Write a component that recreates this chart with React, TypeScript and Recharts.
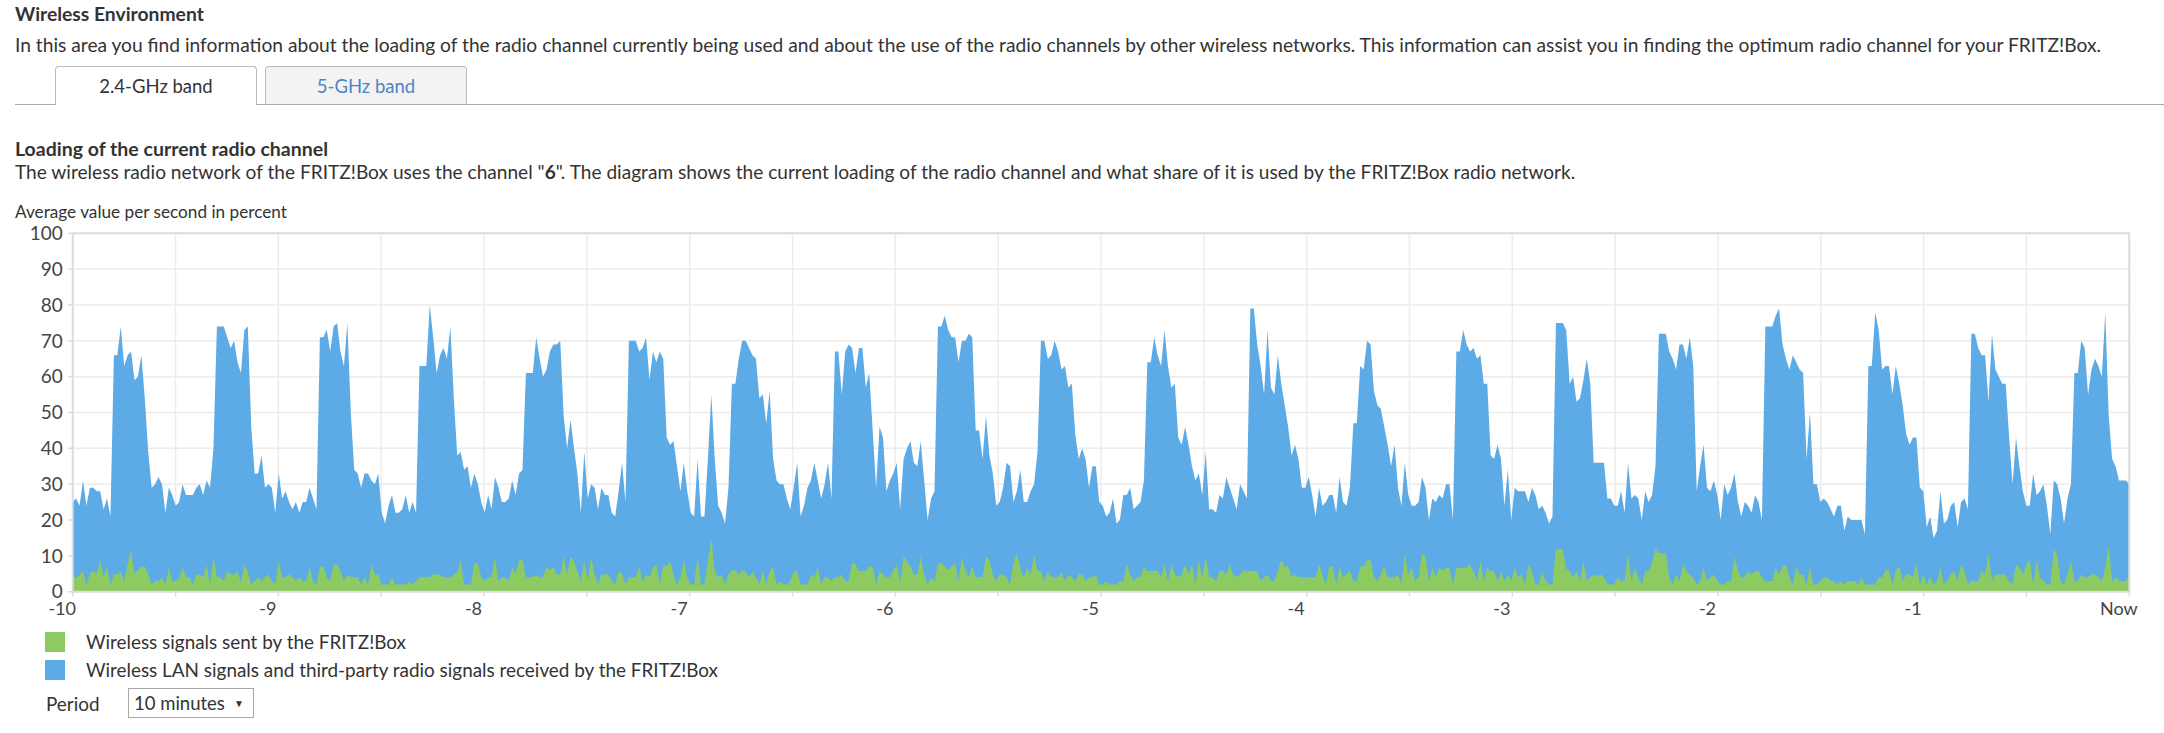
import React from 'react';
import { AreaChart, Area, XAxis, YAxis, CartesianGrid, ReferenceLine } from 'recharts';

// Blue outline: total channel load (%) per second, oldest first (600 s = 10 minutes)
const loadTotal = [
  25,26,24,31,24,29,29,28,28,23, 26,21,66,66,74,63,66,67,59,60, 66,54,39,29,30,32,30,22,29,27,
  24,25,30,27,27,27,29,30,27,31, 29,40,74,74,74,71,68,70,64,61, 73,74,46,33,33,38,29,30,29,22,
  33,26,28,25,23,25,22,25,25,29, 26,23,71,71,73,67,74,75,67,63, 75,50,34,33,29,33,33,31,30,33,
  22,19,24,27,22,22,23,27,22,25, 22,63,
  63,63,80,71,61,66,68,65,74,54, 38,39,34,35,29,33,30,25,22,27, 23,32,29,25,25,26,31,27,33,34,
  61,61,61,71,65,60,62,67,69,69, 70,49,40,48,40,33,22,39,26,30, 29,23,29,27,27,22,21,28,36,25,
  70,70,70,67,68,71,59,67,64,67, 65,43,41,42,35,28,36,28,22,21, 37,21,21,37,55,37,24,22,19,29,
  58,58,65,70,70,68,66,65,54,
  55,47,56,37,31,30,30,26,23,29, 36,21,24,29,31,36,31,26,30,36, 26,67,67,55,67,69,68,61,68,68,
  57,61,45,29,46,43,28,31,33,36, 23,37,40,42,36,35,42,31,20,26, 28,74,74,77,73,71,71,64,70,70,
  72,71,45,45,37,49,38,33,24,25, 29,36,35,25,28,34,25,25,28,30, 39,70,70,65,66,70,67,62,63,57,
  58,44,37,40,37,29,35,35,25,
  24,21,22,26,19,20,27,27,29,23, 24,25,31,64,64,71,66,63,73,63, 57,58,43,41,46,41,35,31,33,27,
  39,23,23,22,27,26,32,29,26,23, 30,28,26,79,79,69,63,55,73,57, 55,66,58,52,46,38,41,37,29,29,
  32,27,21,29,24,25,27,27,22,32, 25,24,29,47,47,63,62,70,69,56, 52,51,46,41,35,41,29,24,36,27,
  24,24,25,32,29,20,26,25,27,
  26,30,30,20,67,67,73,69,67,68, 65,66,58,58,38,37,41,37,24,34, 20,29,28,28,28,25,29,27,23,24,
  22,19,21,75,75,75,73,58,60,53, 54,59,65,58,36,36,36,36,26,26, 24,24,28,22,36,26,27,26,20,28,
  25,27,35,72,72,72,67,65,62,69, 69,65,71,63,28,35,41,29,28,31, 27,20,30,27,29,33,25,21,25,24,
  22,27,25,20,74,74,74,77,
  79,69,65,62,66,64,62,61,37,50, 30,30,25,26,25,23,21,24,24,17, 21,20,20,20,20,16,63,63,78,73,
  62,63,63,55,63,58,52,44,41,43, 43,29,28,18,21,15,17,28,19,20, 24,25,18,25,26,23,72,72,68,66,
  66,53,72,62,60,58,58,43,30,43, 35,28,24,24,33,27,28,30,24,16, 31,30,26,19,26,30,61,61,70,68,
  55,62,65,63,60,78,49,37,35,31, 31,31,30,
];

// Green: share sent by the FRITZ!Box (%) per second
const sentByBox = [
  4.5,3.7,4.7,5.8,2,5,5.8,5,8.8,4, 7,2,4.8,4.8,5.8,3,7.5,11.6,5,6, 7,7,4.8,2,3,3,4,2,6.7,3,
  3,3.7,6.7,4,4,2,4.8,4.8,4,7.5, 2,9.8,4,4,3,5.8,4.8,4.8,5.6,2.8, 7.6,5.6,2,3,4,3,4,4.8,3,2,
  8.6,4,4,4.8,4,3,4,3,3,6.7, 3,2,7,7,4,3,7.6,7.6,5.8,3, 4.8,4,4,4,2,4,2,7.6,4.8,4.8,
  2,2,2,4,2,2,2,2,3,2, 3,4,
  4,4,4,4.8,4.8,4.8,4,4,4,4.8, 5.5,8.8,2,2,2,8,8,4,3,4, 4,9.8,3,4,4,3,6.7,5,8.8,8.8,
  4,4,4,4.8,4,4,7,6,7,4.8, 4.8,9.8,4.8,9.8,8.4,5.6,3,8.8,3,9.8, 4.8,2,4.8,4.8,4.8,3,2,5.8,5,2,
  4,4,4,7,3,4.8,4,6.7,7.6,2, 7.6,7,8.4,4.8,2,4,8.8,4,2,2, 9.8,2,2,8.4,14.9,5.6,4,4.8,2,4.8,
  6,6,4.8,6,5.6,4,5.6,4,2,
  5.8,2,5.6,7,2,3,2,2,3,5.8, 5.8,2,2,2,4.6,4,6.7,2,4,4, 3,4,4,4.8,3,3,8,7.6,5.8,5.8,
  5.8,7,7,2,5.8,4.8,4,4,6,7.6, 2.8,9.8,8.4,7,4.8,4.8,9.8,4.8,2,4, 3,8,8,7,6,7,8,3,9.8,6,
  4,7,4,4,4,9.8,8.8,4.8,3,4.8, 4.8,4,2,8,10.7,6.5,4,6.7,4.8,10.4, 5.8,5.8,3,5.8,4,4,4,5.6,3,4.8,
  4,3,4.8,4.8,3,4,4,4.8,2,
  2,3,2,2,2,3,3,7.6,4.8,3, 4,4,7,5.8,5.8,5.8,5.8,4,7.6,3, 7.6,4.8,4,4.8,7.6,5,7.6,2,8.8,4,
  9.8,4,4,3,5.8,5.8,4.8,7.6,4.8,4, 4.8,5.8,5.8,5.8,5.8,5.8,3,4,4.8,3, 3,5.8,8.8,7,7,4,4.8,4,4,4,
  4,4,4,7.6,4.8,2,7,7,2,7, 4,4.8,6,3,3,7,7,8.8,8.8,4, 3,4.8,7,4,4,4,4.8,2,10.7,4.8,
  6.7,3,4,10.7,9.8,3,6.7,4,6.7,
  6,6.7,6.7,2,6.7,6.7,6.7,6.7,7.6,5.8, 3,8.6,3,6.7,5.8,5.8,3,5.8,3,4.8, 3,6.7,4,5,2,7.6,5.8,2,2,5.8,
  3,2,2,11.9,11.9,11.9,6.5,5.8,4,5.6, 3,8.6,3,4,4.8,4,4.8,4,2,2, 2,4,3,3,10.7,3,6.7,4,2,5.8,
  5.8,8,11.9,10.7,10.7,10.7,4,2,4.8,3, 7.6,5.8,4.8,4,2,3,6.7,3,4,4.8, 3,2,2,3,3,9.8,5.8,4,4,5.8,
  4.8,5.8,5.8,4,3,3,3,6.7,
  4.8,7,7.6,4,2,7,4.8,4.8,2,7, 2,2,3,4,4,3,3,2,3,2, 3,3,3,2,4,2,2,2,2,4,
  4,6,6,2,6,7,3,4.8,4.8,4, 7.6,2,4.7,2,4,2,3,6.7,2,3, 4.8,5.8,3,7.6,5.8,2,3,3,3,5.8,
  4.8,10.7,3,4.8,4.8,4.8,4.8,3,2,7.6, 6.7,4.8,7.6,8.8,2,8.8,4,3,2,2, 11.9,10,3,2,4.8,8.6,3,3,4.8,4,
  4,4.8,4.8,4,3,6.7,12.8,3,4,3, 3,3,4.7,
];

const xTicks = [-10,-9.5,-9,-8.5,-8,-7.5,-7,-6.5,-6,-5.5,-5,-4.5,-4,-3.5,-3,-2.5,-2,-1.5,-1,-0.5,0];
const minuteLabels = ['-10','-9','-8','-7','-6','-5','-4','-3','-2','-1','Now'];
const yTicks = [0,10,20,30,40,50,60,70,80,90,100];

const legendItems = [
  { color: '#8dcb62', text: 'Wireless signals sent by the FRITZ!Box' },
  { color: '#5caae6', text: 'Wireless LAN signals and third-party radio signals received by the FRITZ!Box' },
];

const BLUE = '#5caae6';
const GREEN = '#8dcb62';
const FONT = "Lato, 'Noto Sans', sans-serif";
const TEXT = '#333';

const rows = loadTotal.map((v, i) => ({
  t: -10 + (i * 10) / (loadTotal.length - 1),
  total: v,
  sent: sentByBox[i],
}));

const XTick = (props: any) => {
  const { x, y, payload } = props;
  const v = payload.value;
  if (Math.abs(v - Math.round(v)) > 1e-6) return <g />;
  const idx = Math.round(v) + 10;
  return (
    <text x={x - 10.5} y={y} dy="0.71em" textAnchor="middle" fontSize={18} fill="#444" fontFamily={FONT}>
      {minuteLabels[idx]}
    </text>
  );
};

export default function App() {
  const abs = (l: number, t: number, extra: React.CSSProperties = {}): React.CSSProperties => ({
    position: 'absolute', left: l, top: t, whiteSpace: 'nowrap', ...extra,
  });
  return (
    <div style={{ position: 'absolute', left: 0, top: 0, width: 2164, height: 733, background: '#fff', fontFamily: FONT, color: TEXT, overflow: 'hidden' }}>
      <div style={abs(15, 2, { fontSize: 19.3, fontWeight: 700, lineHeight: '24px' })}>Wireless Environment</div>
      <div style={abs(15, 33, { fontSize: 19.2, lineHeight: '24px' })}>
        In this area you find information about the loading of the radio channel currently being used and about the use of the radio channels by other wireless networks. This information can assist you in finding the optimum radio channel for your FRITZ!Box.
      </div>

      <div style={abs(15, 104, { width: 2149, height: 1, background: '#aaa' })} />
      <div style={abs(55, 66, { width: 202, height: 39, boxSizing: 'border-box', border: '1px solid #bbb', borderBottom: 'none', borderRadius: '4px 4px 0 0', background: '#fff', display: 'flex', alignItems: 'center', justifyContent: 'center', fontSize: 18.5 })}>2.4-GHz band</div>
      <div style={abs(265, 66, { width: 202, height: 38, boxSizing: 'border-box', border: '1px solid #bbb', borderBottom: 'none', borderRadius: '4px 4px 0 0', background: '#f3f3f3', display: 'flex', alignItems: 'center', justifyContent: 'center', fontSize: 18.5, color: '#4f84c4' })}>5-GHz band</div>

      <div style={abs(15, 137, { fontSize: 19.5, fontWeight: 700, lineHeight: '24px' })}>Loading of the current radio channel</div>
      <div style={abs(15, 160, { fontSize: 19.1, lineHeight: '24px' })}>
        The wireless radio network of the FRITZ!Box uses the channel "<b>6</b>". The diagram shows the current loading of the radio channel and what share of it is used by the FRITZ!Box radio network.
      </div>
      <div style={abs(15, 201, { fontSize: 17.2, lineHeight: '22px' })}>Average value per second in percent</div>

      <div style={abs(0, 190)}>
        <AreaChart width={2164} height={440} data={rows} margin={{ top: 43.3, right: 34.7, bottom: 8.3, left: 12.7 }}>
          <CartesianGrid stroke="#ececec" strokeWidth={1.5} />
          <XAxis
            type="number"
            dataKey="t"
            domain={[-10, 0]}
            ticks={xTicks}
            interval={0}
            height={30}
            tickSize={5}
            tickMargin={6}
            axisLine={{ stroke: '#dcdcdc', strokeWidth: 2 }}
            tickLine={{ stroke: '#dcdcdc', strokeWidth: 1.5 }}
            tick={<XTick />}
          />
          <YAxis
            type="number"
            domain={[0, 100]}
            ticks={yTicks}
            interval={0}
            width={60}
            tickSize={5}
            tickMargin={5}
            axisLine={{ stroke: '#dcdcdc', strokeWidth: 2 }}
            tickLine={{ stroke: '#dcdcdc', strokeWidth: 1.5 }}
            tick={{ fontSize: 19, fill: '#444', fontFamily: FONT }}
          />
          <Area type="linear" dataKey="total" stroke="none" fill={BLUE} fillOpacity={1} isAnimationActive={false} dot={false} activeDot={false} />
          <Area type="linear" dataKey="sent" stroke="none" fill={GREEN} fillOpacity={1} isAnimationActive={false} dot={false} activeDot={false} />
          <ReferenceLine y={100} stroke="#dcdcdc" strokeWidth={2} />
          <ReferenceLine x={0} stroke="#dcdcdc" strokeWidth={2} />
        </AreaChart>
      </div>

      {legendItems.map((it, i) => (
        <div key={i}>
          <div style={abs(45, 632 + i * 28, { width: 20, height: 20, background: it.color })} />
          <div style={abs(86, 630 + i * 28, { fontSize: 18.9, lineHeight: '24px' })}>{it.text}</div>
        </div>
      ))}
      <div style={abs(46, 692, { fontSize: 18.9, lineHeight: '24px' })}>Period</div>
      <div style={abs(128, 688, { width: 126, height: 30, boxSizing: 'border-box', border: '1px solid #a8a8a8', background: '#fff' })}>
        <div style={abs(5, 2, { fontSize: 18.5, lineHeight: '24px' })}>10 minutes</div>
        <div style={abs(105, 4, { fontSize: 10, lineHeight: '20px' })}>▼</div>
      </div>
    </div>
  );
}
